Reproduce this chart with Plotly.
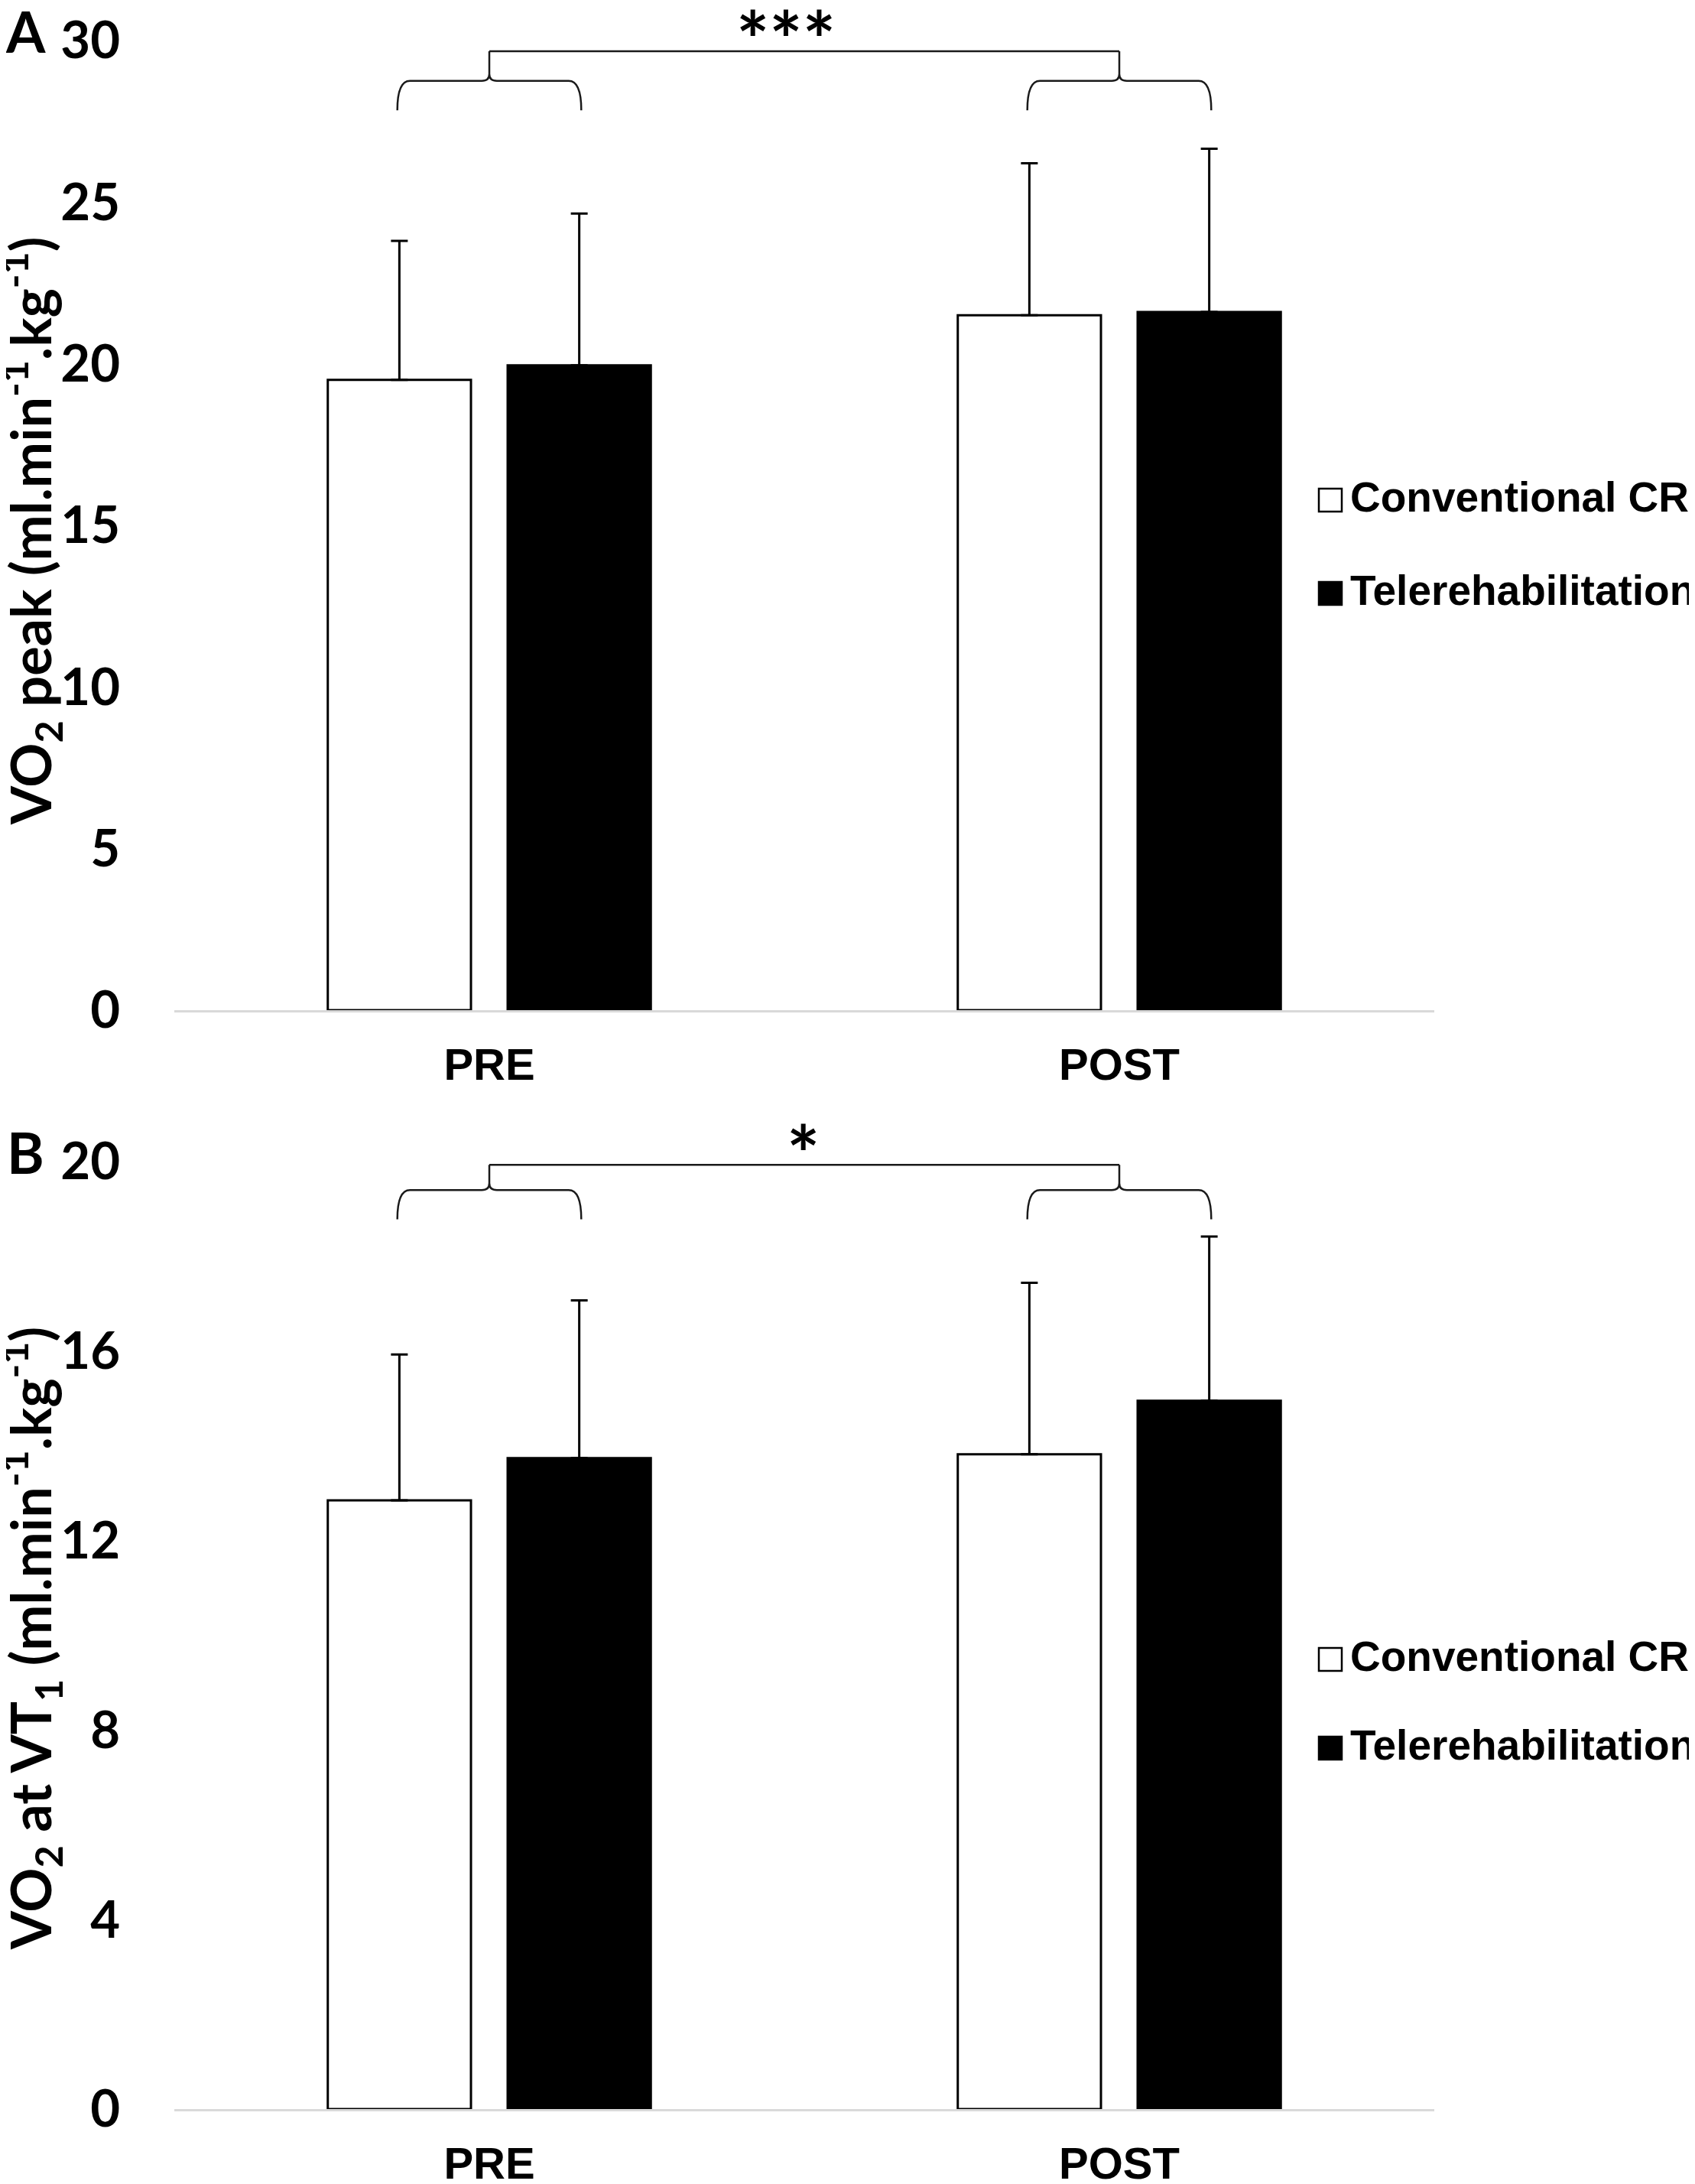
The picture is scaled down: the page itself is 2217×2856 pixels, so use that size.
import plotly.graph_objects as go

# %% data (mean, + SD)
groups = ['PRE', 'POST']
xpos = [0, 1]

conv_peak = [19.5, 21.5]
conv_peak_sd = [4.3, 4.7]
tele_peak = [19.95, 21.6]
tele_peak_sd = [4.7, 5.05]

conv_vt1 = [12.85, 13.82]
conv_vt1_sd = [3.08, 3.62]
tele_vt1 = [13.74, 14.95]
tele_vt1_sd = [3.33, 3.47]

peak_ticks = [0, 5, 10, 15, 20, 25, 30]
vt1_ticks = [0, 4, 8, 12, 16, 20]

# bracket levels (top line, brace line, brace ends)
peak_brace = [29.67, 28.75, 27.84]
vt1_brace = [19.93, 19.4, 18.78]

# page is 2217x2856, the html body keeps an 8px margin
PAGE_W, PAGE_H, OFF = 2217, 2856, 8
W, H = PAGE_W - OFF, PAGE_H - OFF
TICKFONT = dict(family='Lato', size=67, color='black', weight='bold')
CATFONT = dict(family='Liberation Sans', size=58, color='black', weight='bold')
LEGFONT = dict(family='Liberation Sans', size=55, color='black', weight='bold')
STARFONT = dict(family='Lato', size=102, color='black', weight='bold')


def px(xp):
    return (xp - OFF) / W


def py(yp):
    return 1 - (yp - OFF) / H


def bar(y, sd, fill, xa, ya, name):
    return go.Bar(
        x=xpos, y=y, name=name, xaxis=xa, yaxis=ya, showlegend=False,
        marker=dict(color=fill, line=dict(color='black', width=3)),
        error_y=dict(type='data', array=sd, arrayminus=[0] * len(sd), symmetric=False,
                     color='black', thickness=3, width=11),
    )


fig = go.Figure()
fig.add_trace(bar(conv_peak, conv_peak_sd, 'white', 'x', 'y', 'Conventional CR'))
fig.add_trace(bar(tele_peak, tele_peak_sd, 'black', 'x', 'y', 'Telerehabilitation'))
fig.add_trace(bar(conv_vt1, conv_vt1_sd, 'white', 'x2', 'y2', 'Conventional CR'))
fig.add_trace(bar(tele_vt1, tele_vt1_sd, 'black', 'x2', 'y2', 'Telerehabilitation'))

xdom = [px(228), px(1876)]
xcommon = dict(domain=xdom, range=[-0.5, 1.5], tickvals=xpos, ticktext=groups,
               showgrid=False, zeroline=False, showline=True, linecolor='#d9d9d9',
               linewidth=3, ticks='', tickfont=CATFONT, ticklabelstandoff=18,
               automargin=False, fixedrange=True)
ycommon = dict(showgrid=False, zeroline=False, showline=False, ticks='',
               tickfont=TICKFONT, ticklabelstandoff=70, automargin=False)

fig.update_layout(
    width=W, height=H, autosize=False,
    margin=dict(l=0, r=0, t=0, b=0),
    paper_bgcolor='white', plot_bgcolor='white',
    barmode='group', bargap=0.429, bargroupgap=0.204,
    xaxis=dict(anchor='y', **xcommon),
    yaxis=dict(anchor='x', domain=[py(1321), py(53)], range=[0, 30],
               tickvals=peak_ticks, **ycommon),
    xaxis2=dict(anchor='y2', **xcommon),
    yaxis2=dict(anchor='x2', domain=[py(2758), py(1519)], range=[0, 20],
                tickvals=vt1_ticks, **ycommon),
)


# %% curly brackets + connecting line
def brace(xc, half, y_end, y_h, y_top, rx, rc, yc):
    x0, x1 = xc - half, xc + half
    return (f'M{x0},{y_end} Q{x0},{y_h} {x0 + rx},{y_h} L{xc - rc},{y_h} '
            f'Q{xc},{y_h} {xc},{y_h + yc} L{xc},{y_top} '
            f'M{xc},{y_h + yc} Q{xc},{y_h} {xc + rc},{y_h} L{x1 - rx},{y_h} '
            f'Q{x1},{y_h} {x1},{y_end}')


for xa, ya, lev, ppu in [('x', 'y', peak_brace, 1268 / 30), ('x2', 'y2', vt1_brace, 1239 / 20)]:
    top, mid, end = lev
    for xc in xpos:
        fig.add_shape(type='path', xref=xa, yref=ya,
                      path=brace(xc, 0.146, end, mid, top, 0.02, 0.012, 9 / ppu),
                      line=dict(color='#1a1a1a', width=2.5))
    fig.add_shape(type='line', xref=xa, yref=ya, x0=xpos[0], x1=xpos[1], y0=top, y1=top,
                  line=dict(color='#1a1a1a', width=2.5))

# significance stars, placed by the top of the glyph
for txt, xc, gtop in [('***', 1028, 13), ('*', 1050, 1470)]:
    fig.add_annotation(x=px(xc), y=py(gtop - 26), xref='paper', yref='paper', text=txt,
                       showarrow=False, xanchor='center', yanchor='top', font=STARFONT)

# %% axis titles and panel letters
ytitles = ['VO<sub>2</sub> peak (ml.min<sup>-1</sup>.kg<sup>-1</sup>)',
           'VO<sub>2</sub> at VT<sub>1</sub> (ml.min<sup>-1</sup>.kg<sup>-1</sup>)']
for txt, yc in zip(ytitles, [694, 2143]):
    fig.add_annotation(x=px(40), y=py(yc), xref='paper', yref='paper', text=txt,
                       textangle=-90, showarrow=False, xanchor='center', yanchor='middle',
                       font=dict(family='Lato', size=72, color='black', weight='bold'))

for txt, yc in [('A', 40), ('B', 1507)]:
    fig.add_annotation(x=px(33), y=py(yc), xref='paper', yref='paper', text=txt,
                       showarrow=False, xanchor='center', yanchor='middle',
                       font=dict(family='Lato', size=74, color='black', weight='bold'))

# %% legends (drawn by hand so the boxes match)
legend_rows = [(654, 776), (2170, 2286)]
for rows in legend_rows:
    for yc, fill, label in zip(rows, ['white', 'black'], ['Conventional CR', 'Telerehabilitation']):
        fig.add_shape(type='rect', xref='paper', yref='paper',
                      x0=px(1725), x1=px(1755), y0=py(yc + 15), y1=py(yc - 15),
                      fillcolor=fill, line=dict(color='black', width=2.5))
        fig.add_annotation(x=px(1764), y=py(yc - 4), xref='paper', yref='paper', text=label,
                           showarrow=False, xanchor='left', yanchor='middle', font=LEGFONT)

fig.write_html("out.html")
